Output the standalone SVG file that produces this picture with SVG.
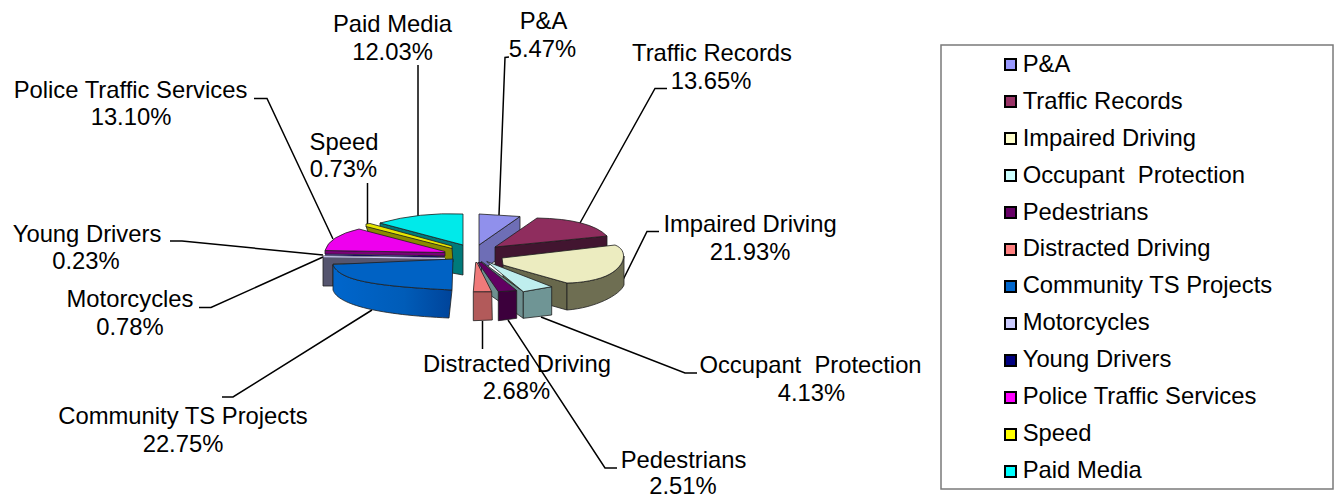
<svg xmlns="http://www.w3.org/2000/svg" width="1336" height="497" viewBox="0 0 1336 497">
<style>
text{font-family:"Liberation Sans",Arial,sans-serif;font-size:23.8px;fill:#000}
.c{text-anchor:middle}
.s{stroke:#1e1e1e;stroke-width:0.8;stroke-linejoin:round}
.ld{fill:none;stroke:#000;stroke-width:1.5}
.lg{stroke:#000;stroke-width:2}
</style>
<defs>
<linearGradient id="gCom" x1="0" y1="0" x2="1" y2="0">
<stop offset="0" stop-color="#0066cc"/>
<stop offset="0.6" stop-color="#005cb8"/>
<stop offset="1" stop-color="#00449a"/>
</linearGradient>
</defs>
<rect width="1336" height="497" fill="#fff"/>

<g id="connectors">
<polyline class="ld" points="418,65 418,217"/>
<polyline class="ld" points="367.5,183 367.5,226"/>
<polyline class="ld" points="254,98.5 267,98.5 333,239"/>
<polyline class="ld" points="509,57 505,57.5 499,215"/>
<polyline class="ld" points="667,88.5 655,88.5 580,223"/>
<polyline class="ld" points="659,231.5 647,231.5 617,292"/>
<polyline class="ld" points="170,241 182,241 323,255"/>
<polyline class="ld" points="199,307.5 211,307.5 323,257"/>
<polyline class="ld" points="222,397 233,397 372,310"/>
<polyline class="ld" points="482.5,321 482.5,349"/>
<polyline class="ld" points="508,320 605,468 617,468"/>
<polyline class="ld" points="541,317 685,373 697,373"/>
</g>

<g id="slice-pa">
<path class="s" d="M479,245 L520,216.5 L520,244 L479,272 Z" fill="#6e6eb6"/>
<path class="s" d="M479,214 L520,216.5 L479,245 Z" fill="#9090ec"/>
</g>
<g id="slice-paid-media">
<path class="s" d="M380,223 L463,245 L463,275 L452,273 L380,235 Z" fill="#007a7a"/>
<path class="s" d="M380,223 Q420,212 463,214 L463,245 Z" fill="#00eaea"/>
</g>
<g id="slice-speed">
<path class="s" d="M366,226 L452,248 L453,262 L444,260 L368,232 Z" fill="#8a8a00"/>
<path class="s" d="M366,224 L370,223.5 L452,246 L452,248.5 L366,226.5 Z" fill="#e6e600"/>
</g>
<g id="slice-police">
<path class="s" d="M325,250.5 L445,252.5 L445,256 L325,254 Z" fill="#7a007a"/>
<path class="s" d="M325,250.5 Q329,236 359,229 L445,251.5 L445,252.5 Z" fill="#ee00ee"/>
</g>
<g id="slice-young">
<path d="M325,254.2 L445,256.2 L445,257.4 L325,255.4 Z" fill="#1a0a60"/>
</g>
<g id="slice-motorcycles">
<path class="s" d="M323,256 L445,258 L445,262 L333,264 L333,286 L323,286 Z" fill="#55556f"/>
<path d="M323.5,256 L445,257.8 L445,259 L323.5,257.3 Z" fill="#c8c8f0"/>
</g>
<g id="slice-traffic-records">
<path class="s" d="M495,247 L607,236 L607,262 L495,268 Z" fill="#421530"/>
<path class="s" d="M495,247 L537,218 Q590,219 607,236 Z" fill="#8f2d5e"/>
</g>
<g id="slice-impaired">
<path class="s" d="M503,265 L567,283 L567,310 L503,292 Z" fill="#68684c"/>
<path class="s" d="M567,283 C580,283 600,280 610,274 C620,268 624,262 624,256 L624,285 C620,295 595,308 567,310 Z" fill="#6e6e52"/>
<path class="s" d="M502,258 L615,245 C628,250 626,265 610,274 C600,280 580,283 567,283 L503,265 Z" fill="#ececc0"/>
</g>
<g id="slice-community">
<path class="s" d="M333,265 C340,280 370,286 452,290 L449,318 C380,315 338,305 333,290 Z" fill="url(#gCom)"/>
<path class="s" d="M333,264.5 L453,259 L452,290 C370,286 340,280 333,265 Z" fill="#0062c4"/>
</g>
<g id="slice-occupant">
<path class="s" d="M481.5,261.5 L523.3,291.7 L523.3,318.3 L481.5,289 Z" fill="#6e9090"/>
<path class="s" d="M523.3,291.7 L551.7,286.7 L551.7,315 L523.3,318.3 Z" fill="#6f9595"/>
<path class="s" d="M486.7,261.5 L551.7,286.7 L523.3,291.7 Z" fill="#bfeeee"/>
</g>
<g id="slice-pedestrians">
<path class="s" d="M498.3,291.7 L516.7,290.5 L516.7,318.3 L498.3,320.7 Z" fill="#3c003c"/>
<path class="s" d="M478,262.5 L481.7,262.5 L516.7,290.5 L498.3,291.7 Z" fill="#620062"/>
</g>
<g id="slice-distracted">
<path class="s" d="M473.3,291.7 L491.7,291.7 L492.3,320 L473.3,320.7 Z" fill="#b25a5a"/>
<path class="s" d="M475.7,262.5 L477,262.5 L491.7,291.7 L473.3,291.7 Z" fill="#f07a7a"/>
</g>

<g id="labels">
<text class="c" x="392.5" y="32">Paid Media</text>
<text class="c" x="392.5" y="60">12.03%</text>
<text class="c" x="543.5" y="28.5">P&amp;A</text>
<text class="c" x="542.5" y="56.7">5.47%</text>
<text class="c" x="712" y="60.7">Traffic Records</text>
<text class="c" x="711" y="89">13.65%</text>
<text class="c" x="750" y="231.5">Impaired Driving</text>
<text class="c" x="750" y="259.5">21.93%</text>
<text class="c" x="130.5" y="97.5">Police Traffic Services</text>
<text class="c" x="131" y="125">13.10%</text>
<text class="c" x="344" y="149.5">Speed</text>
<text class="c" x="343.5" y="177">0.73%</text>
<text class="c" x="87" y="241.5">Young Drivers</text>
<text class="c" x="86" y="268.5">0.23%</text>
<text class="c" x="130" y="307">Motorcycles</text>
<text class="c" x="130" y="334.5">0.78%</text>
<text class="c" x="183" y="424">Community TS Projects</text>
<text class="c" x="183" y="451.5">22.75%</text>
<text class="c" x="517" y="371.7">Distracted Driving</text>
<text class="c" x="516.5" y="399.3">2.68%</text>
<text class="c" x="810.5" y="373.3" style="white-space:pre" xml:space="preserve">Occupant  Protection</text>
<text class="c" x="811.5" y="401">4.13%</text>
<text class="c" x="683.5" y="468.3">Pedestrians</text>
<text class="c" x="683" y="494">2.51%</text>
</g>

<g id="legend">
<rect x="941" y="45" width="392" height="444" fill="#fff" stroke="#7a7a7a" stroke-width="1.5"/>
<g id="lg-pa"><rect class="lg" x="1005" y="59" width="11" height="11" fill="#9999ff"/><text x="1022.7" y="71.7">P&amp;A</text></g>
<g id="lg-tr"><rect class="lg" x="1005" y="96" width="11" height="11" fill="#993366"/><text x="1022.7" y="108.6">Traffic Records</text></g>
<g id="lg-id"><rect class="lg" x="1005" y="133" width="11" height="11" fill="#ffffcc"/><text x="1022.7" y="145.6">Impaired Driving</text></g>
<g id="lg-op"><rect class="lg" x="1005" y="170" width="11" height="11" fill="#ccffff"/><text x="1022.7" y="182.5" style="white-space:pre" xml:space="preserve">Occupant  Protection</text></g>
<g id="lg-pe"><rect class="lg" x="1005" y="207" width="11" height="11" fill="#660066"/><text x="1022.7" y="219.5">Pedestrians</text></g>
<g id="lg-dd"><rect class="lg" x="1005" y="244" width="11" height="11" fill="#ff8080"/><text x="1022.7" y="256.4">Distracted Driving</text></g>
<g id="lg-ct"><rect class="lg" x="1005" y="281" width="11" height="11" fill="#0066cc"/><text x="1022.7" y="293.4">Community TS Projects</text></g>
<g id="lg-mo"><rect class="lg" x="1005" y="318" width="11" height="11" fill="#ccccff"/><text x="1022.7" y="330.3">Motorcycles</text></g>
<g id="lg-yd"><rect class="lg" x="1005" y="355" width="11" height="11" fill="#000080"/><text x="1022.7" y="367.3">Young Drivers</text></g>
<g id="lg-pt"><rect class="lg" x="1005" y="392" width="11" height="11" fill="#ff00ff"/><text x="1022.7" y="404.2">Police Traffic Services</text></g>
<g id="lg-sp"><rect class="lg" x="1005" y="429" width="11" height="11" fill="#ffff00"/><text x="1022.7" y="441.2">Speed</text></g>
<g id="lg-pm"><rect class="lg" x="1005" y="466" width="11" height="11" fill="#00ffff"/><text x="1022.7" y="478.1">Paid Media</text></g>
</g>
</svg>
